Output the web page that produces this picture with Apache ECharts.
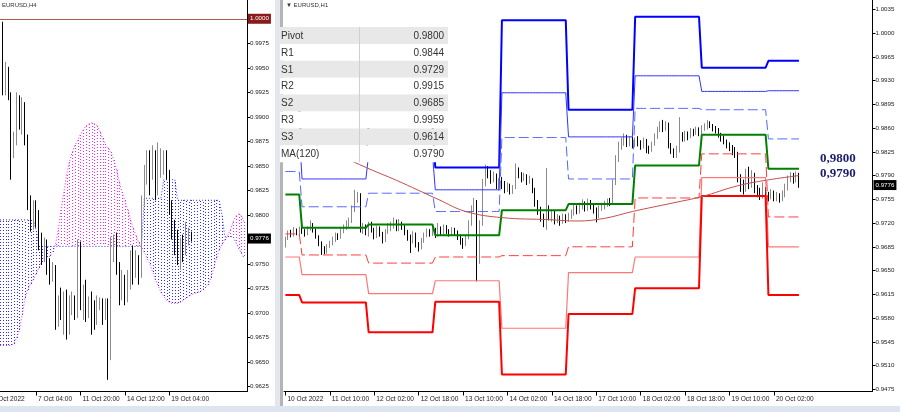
<!DOCTYPE html>
<html><head><meta charset="utf-8">
<script src="https://cdn.jsdelivr.net/npm/echarts@6/dist/echarts.min.js"></script>
<style>html,body{margin:0;padding:0;background:#fff}#c{width:900px;height:412px}</style>
</head><body><div id="c"></div>
<script>
// ---------- tick labels ----------
const leftTickLabels = ['6 Oct 2022','7 Oct 04:00','11 Oct 20:00','14 Oct 12:00','19 Oct 04:00'];
const rightTickLabels = ['10 Oct 2022','11 Oct 10:00','12 Oct 02:00','12 Oct 18:00','13 Oct 10:00','14 Oct 02:00','14 Oct 18:00','17 Oct 10:00','18 Oct 02:00','18 Oct 18:00','19 Oct 10:00','20 Oct 02:00'];
const leftYTicks = [0.9975,0.9950,0.9925,0.9900,0.9875,0.9850,0.9825,0.9800,0.9750,0.9725,0.9700,0.9675,0.9650,0.9625];
const rightYTicks = [1.0035,1.0000,0.9965,0.9930,0.9895,0.9860,0.9825,0.9790,0.9755,0.9720,0.9685,0.9650,0.9615,0.9580,0.9545,0.9510,0.9475];

// ---------- H4 candles (left) [open, close, low, high] ----------
const leftCandles = [
[0.9989,0.9973,0.9971,0.9991],
[0.9975,0.9928,0.9922,0.9997],[0.9928,0.9948,0.9922,0.9956],[0.9948,0.9922,0.9917,0.9951],[0.9922,0.9866,0.9836,0.9925],
[0.9866,0.9877,0.9858,0.9885],[0.9877,0.9917,0.9871,0.9925],[0.9917,0.9897,0.9887,0.9922],[0.9897,0.9912,0.9882,0.9920],
[0.9912,0.9877,0.9871,0.9915],[0.9877,0.9815,0.9805,0.9882],[0.9815,0.9790,0.9783,0.9820],[0.9790,0.9810,0.9785,0.9815],
[0.9810,0.9800,0.9787,0.9815],[0.9800,0.9775,0.9764,0.9805],[0.9775,0.9759,0.9749,0.9782],[0.9759,0.9769,0.9752,0.9777],
[0.9769,0.9749,0.9739,0.9775],[0.9749,0.9739,0.9729,0.9756],[0.9739,0.9746,0.9732,0.9752],[0.9746,0.9693,0.9683,0.9749],
[0.9693,0.9713,0.9686,0.9718],[0.9713,0.9703,0.9693,0.9726],[0.9703,0.9715,0.9678,0.9722],[0.9715,0.9688,0.9673,0.9724],
[0.9688,0.9708,0.9678,0.9718],[0.9708,0.9713,0.9698,0.9722],[0.9713,0.9703,0.9693,0.9718],[0.9703,0.9769,0.9695,0.9775],
[0.9769,0.9713,0.9703,0.9773],[0.9713,0.9718,0.9693,0.9729],[0.9718,0.9708,0.9691,0.9734],[0.9708,0.9713,0.9695,0.9717],
[0.9713,0.9703,0.9678,0.9722],[0.9703,0.9693,0.9683,0.9713],[0.9693,0.9710,0.9688,0.9718],[0.9710,0.9713,0.9703,0.9716],
[0.9713,0.9708,0.9688,0.9715],[0.9708,0.9711,0.9693,0.9715],[0.9711,0.9668,0.9632,0.9715],[0.9668,0.9764,0.9652,0.9778],
[0.9764,0.9775,0.9752,0.9780],[0.9775,0.9744,0.9739,0.9782],[0.9744,0.9718,0.9708,0.9752],[0.9718,0.9729,0.9713,0.9744],
[0.9729,0.9713,0.9708,0.9739],[0.9713,0.9734,0.9711,0.9744],[0.9734,0.9749,0.9724,0.9764],[0.9749,0.9739,0.9729,0.9769],
[0.9739,0.9752,0.9736,0.9764],[0.9752,0.9739,0.9729,0.9759],[0.9739,0.9815,0.9736,0.9820],[0.9815,0.9841,0.9810,0.9851],
[0.9841,0.9851,0.9831,0.9866],[0.9851,0.9846,0.9820,0.9866],[0.9846,0.9856,0.9836,0.9871],[0.9856,0.9825,0.9815,0.9866],
[0.9825,0.9851,0.9820,0.9874],[0.9851,0.9856,0.9838,0.9868],[0.9856,0.9861,0.9841,0.9866],[0.9861,0.9841,0.9836,0.9866],
[0.9841,0.9810,0.9800,0.9846],[0.9810,0.9785,0.9775,0.9815],[0.9785,0.9769,0.9759,0.9795],[0.9769,0.9759,0.9749,0.9785],
[0.9759,0.9769,0.9744,0.9777],[0.9769,0.9764,0.9752,0.9780],[0.9764,0.9777,0.9759,0.9793],[0.9777,0.9780,0.9769,0.9787],
[0.9780,0.9776,0.9773,0.9783]
];

// ---------- Ichimoku spans (left, per H4 slot) ----------
const spanA = [
0.9667,0.9667,0.9667,0.9667,0.9667,0.9669,0.9675,
0.9683,0.9698,0.9715,0.9724,0.9730,0.9734,0.9740,0.9746,0.9752,0.9756,
0.9757,0.9758,0.9762,0.9770,0.9785,0.9805,0.9823,0.9841,0.9854,0.9864,
0.9871,0.9876,0.9882,0.9887,0.9891,0.9893,0.9894,0.9893,0.9891,0.9885,
0.9878,0.9872,0.9868,0.9864,0.9856,0.9846,0.9834,0.9823,0.9815,0.9805,
0.9795,0.9787,0.9779,0.9772,0.9768,0.9762,0.9756,0.9750,0.9742,0.9734,
0.9728,0.9721,0.9717,0.9713,0.9711,0.9710,0.9710,0.9710,0.9711,0.9713,
0.9715,0.9717,0.9719,0.9720,0.9721,0.9722,0.9724,0.9726,0.9729,0.9736,
0.9746,0.9756,0.9764,0.9770,0.9775,0.9779,0.9785,0.9793,0.9799,0.9801,
0.9799,0.9793];
const spanB = [
0.9795,0.9795,0.9795,0.9795,0.9795,0.9795,0.9795,
0.9795,0.9795,0.9795,0.9795,0.9795,0.9795,0.9785,0.9768,0.9768,0.9768,
0.9768,0.9768,0.9768,0.9768,0.9768,0.9768,0.9768,0.9768,0.9768,0.9768,
0.9768,0.9768,0.9768,0.9768,0.9768,0.9768,0.9768,0.9768,0.9768,0.9768,
0.9768,0.9768,0.9768,0.9768,0.9768,0.9768,0.9768,0.9768,0.9768,0.9768,
0.9768,0.9768,0.9768,0.9768,0.9768,0.9817,0.9817,0.9817,0.9817,0.9817,
0.9817,0.9817,0.9836,0.9836,0.9836,0.9836,0.9836,0.9815,0.9815,0.9815,
0.9815,0.9815,0.9815,0.9815,0.9815,0.9815,0.9815,0.9815,0.9815,0.9815,
0.9815,0.9815,0.9815,0.9800,0.9778,0.9778,0.9778,0.9778,0.9772,0.9766,
0.9761,0.9756];

// ---------- H1 candles (right) [open, close, low, high] ----------
const rightCandles = [
[0.9692,0.9698,0.9684,0.9700],[0.9698,0.9706,0.9695,0.9709],[0.9706,0.9702,0.9699,0.9710],[0.9702,0.9710,0.9700,0.9714],
[0.9710,0.9705,0.9702,0.9712],[0.9705,0.9712,0.9703,0.9715],[0.9712,0.9708,0.9704,0.9716],[0.9708,0.9704,0.9700,0.9711],
[0.9704,0.9712,0.9702,0.9715],[0.9712,0.9718,0.9709,0.9724],[0.9718,0.9710,0.9706,0.9720],[0.9710,0.9700,0.9697,0.9712],
[0.9700,0.9690,0.9686,0.9702],[0.9690,0.9682,0.9673,0.9693],[0.9682,0.9678,0.9674,0.9686],[0.9678,0.9686,0.9675,0.9689],
[0.9686,0.9690,0.9683,0.9694],[0.9690,0.9696,0.9687,0.9700],[0.9696,0.9702,0.9692,0.9706],[0.9702,0.9700,0.9695,0.9705],
[0.9700,0.9708,0.9697,0.9712],[0.9708,0.9714,0.9705,0.9718],[0.9714,0.9718,0.9710,0.9724],[0.9718,0.9722,0.9714,0.9728],
[0.9722,0.9740,0.9720,0.9746],[0.9740,0.9760,0.9736,0.9769],[0.9760,0.9762,0.9750,0.9766],[0.9762,0.9710,0.9706,0.9764],
[0.9710,0.9714,0.9704,0.9720],[0.9714,0.9706,0.9702,0.9718],[0.9706,0.9718,0.9700,0.9722],[0.9718,0.9710,0.9706,0.9722],
[0.9710,0.9702,0.9696,0.9713],[0.9702,0.9712,0.9698,0.9716],[0.9712,0.9704,0.9700,0.9715],[0.9704,0.9694,0.9690,0.9707],
[0.9694,0.9708,0.9692,0.9711],[0.9708,0.9714,0.9704,0.9720],[0.9714,0.9716,0.9708,0.9722],[0.9716,0.9722,0.9712,0.9728],
[0.9722,0.9712,0.9708,0.9725],[0.9712,0.9720,0.9708,0.9726],[0.9720,0.9714,0.9710,0.9722],[0.9714,0.9708,0.9702,0.9717],
[0.9708,0.9700,0.9694,0.9710],[0.9700,0.9692,0.9676,0.9703],[0.9692,0.9704,0.9690,0.9708],[0.9704,0.9688,0.9684,0.9706],
[0.9688,0.9684,0.9678,0.9692],[0.9684,0.9694,0.9681,0.9698],[0.9694,0.9702,0.9691,0.9706],[0.9702,0.9708,0.9699,0.9712],
[0.9708,0.9704,0.9700,0.9711],[0.9704,0.9710,0.9701,0.9714],[0.9710,0.9702,0.9698,0.9713],[0.9702,0.9712,0.9700,0.9720],
[0.9712,0.9706,0.9702,0.9715],[0.9706,0.9714,0.9703,0.9718],[0.9714,0.9708,0.9704,0.9717],[0.9708,0.9704,0.9700,0.9711],
[0.9704,0.9710,0.9701,0.9714],[0.9710,0.9706,0.9702,0.9713],[0.9706,0.9700,0.9695,0.9709],[0.9700,0.9694,0.9688,0.9703],
[0.9694,0.9688,0.9682,0.9698],[0.9688,0.9698,0.9686,0.9702],[0.9698,0.9720,0.9696,0.9724],[0.9720,0.9740,0.9716,0.9746],
[0.9740,0.9750,0.9736,0.9757],[0.9750,0.9670,0.9634,0.9754],[0.9670,0.9720,0.9660,0.9724],[0.9720,0.9780,0.9716,0.9785],
[0.9780,0.9800,0.9774,0.9806],[0.9800,0.9795,0.9786,0.9804],[0.9795,0.9785,0.9778,0.9798],[0.9785,0.9790,0.9780,0.9796],
[0.9790,0.9775,0.9770,0.9793],[0.9775,0.9780,0.9768,0.9786],[0.9780,0.9778,0.9770,0.9788],[0.9778,0.9770,0.9764,0.9782],
[0.9770,0.9774,0.9766,0.9780],[0.9774,0.9766,0.9762,0.9778],[0.9766,0.9772,0.9763,0.9776],[0.9772,0.9798,0.9770,0.9808],
[0.9798,0.9792,0.9786,0.9802],[0.9792,0.9786,0.9780,0.9795],[0.9786,0.9790,0.9782,0.9794],[0.9790,0.9782,0.9776,0.9792],
[0.9782,0.9784,0.9778,0.9790],[0.9784,0.9770,0.9764,0.9786],[0.9770,0.9750,0.9744,0.9772],[0.9750,0.9740,0.9732,0.9754],
[0.9740,0.9730,0.9722,0.9744],[0.9730,0.9720,0.9714,0.9734],[0.9720,0.9740,0.9710,0.9801],[0.9740,0.9730,0.9724,0.9746],
[0.9730,0.9735,0.9722,0.9740],[0.9735,0.9725,0.9718,0.9738],[0.9725,0.9728,0.9720,0.9733],[0.9728,0.9722,0.9716,0.9731],
[0.9722,0.9730,0.9719,0.9734],[0.9730,0.9726,0.9720,0.9733],[0.9726,0.9730,0.9722,0.9735],[0.9730,0.9735,0.9726,0.9740],
[0.9735,0.9742,0.9731,0.9747],[0.9742,0.9738,0.9733,0.9746],[0.9738,0.9745,0.9734,0.9750],[0.9745,0.9748,0.9740,0.9755],
[0.9748,0.9742,0.9737,0.9752],[0.9742,0.9750,0.9738,0.9756],[0.9750,0.9746,0.9740,0.9754],[0.9746,0.9740,0.9734,0.9749],
[0.9740,0.9730,0.9721,0.9743],[0.9730,0.9742,0.9727,0.9746],[0.9742,0.9744,0.9738,0.9750],[0.9744,0.9748,0.9740,0.9753],
[0.9748,0.9752,0.9744,0.9756],[0.9752,0.9750,0.9745,0.9757],[0.9750,0.9780,0.9748,0.9784],[0.9780,0.9815,0.9776,0.9820],
[0.9815,0.9835,0.9810,0.9840],[0.9835,0.9840,0.9828,0.9846],[0.9840,0.9846,0.9834,0.9852],[0.9846,0.9838,0.9832,0.9850],
[0.9838,0.9844,0.9833,0.9848],[0.9844,0.9836,0.9830,0.9847],[0.9836,0.9842,0.9832,0.9846],[0.9842,0.9838,0.9833,0.9848],
[0.9838,0.9834,0.9828,0.9842],[0.9834,0.9842,0.9830,0.9846],[0.9842,0.9830,0.9823,0.9844],[0.9830,0.9828,0.9822,0.9834],
[0.9828,0.9836,0.9825,0.9840],[0.9836,0.9848,0.9834,0.9852],[0.9848,0.9858,0.9844,0.9862],[0.9858,0.9864,0.9854,0.9870],
[0.9864,0.9860,0.9854,0.9872],[0.9860,0.9866,0.9856,0.9870],[0.9866,0.9834,0.9830,0.9868],[0.9834,0.9826,0.9822,0.9838],
[0.9826,0.9818,0.9816,0.9830],[0.9818,0.9830,0.9816,0.9834],[0.9830,0.9850,0.9824,0.9876],[0.9850,0.9844,0.9840,0.9854],
[0.9844,0.9852,0.9840,0.9856],[0.9852,0.9848,0.9842,0.9855],[0.9848,0.9856,0.9845,0.9860],[0.9856,0.9854,0.9848,0.9859],
[0.9854,0.9858,0.9850,0.9862],[0.9858,0.9852,0.9848,0.9861],[0.9852,0.9860,0.9850,0.9864],[0.9860,0.9862,0.9856,0.9867],
[0.9862,0.9868,0.9858,0.9872],[0.9868,0.9864,0.9860,0.9870],[0.9864,0.9860,0.9855,0.9866],[0.9860,0.9858,0.9852,0.9863],
[0.9858,0.9850,0.9846,0.9860],[0.9850,0.9846,0.9840,0.9853],[0.9846,0.9840,0.9836,0.9849],[0.9840,0.9836,0.9830,0.9843],
[0.9836,0.9832,0.9826,0.9839],[0.9832,0.9828,0.9820,0.9835],[0.9828,0.9822,0.9816,0.9832],[0.9822,0.9786,0.9780,0.9825],
[0.9786,0.9776,0.9766,0.9792],[0.9776,0.9770,0.9762,0.9784],[0.9770,0.9784,0.9766,0.9800],[0.9784,0.9778,0.9770,0.9803],
[0.9778,0.9790,0.9772,0.9798],[0.9790,0.9772,0.9764,0.9794],[0.9772,0.9766,0.9758,0.9776],[0.9766,0.9762,0.9754,0.9772],
[0.9762,0.9770,0.9756,0.9780],[0.9770,0.9760,0.9754,0.9773],[0.9760,0.9758,0.9752,0.9766],[0.9758,0.9764,0.9755,0.9770],
[0.9764,0.9756,0.9752,0.9768],[0.9756,0.9760,0.9752,0.9766],[0.9760,0.9754,0.9750,0.9764],[0.9754,0.9762,0.9752,0.9768],
[0.9762,0.9772,0.9758,0.9778],[0.9772,0.9784,0.9768,0.9790],[0.9784,0.9790,0.9780,0.9795],[0.9790,0.9786,0.9778,0.9794],
[0.9786,0.9792,0.9780,0.9796],[0.9792,0.9776,0.9772,0.9794]
];

// ---------- daily pivot levels (right) ----------
const dayStarts = [0,6,30,54,78,102,126,150,174];
const pivotDaily = [0.9762,0.9713,0.9718,0.9702,0.9739,0.9748,0.9805,0.9850,0.9800];
const r1Daily = [0.9796,0.9744,0.9764,0.9737,0.9846,0.9785,0.9889,0.9887,0.9844];
const r2Daily = [0.9854,0.9785,0.9821,0.9769,0.9912,0.9847,0.9937,0.9914,0.9915];
const r3Daily = [0.9888,0.9815,0.9866,0.9802,1.0019,0.9887,1.0024,0.9949,0.9959];
const s1Daily = [0.9704,0.9673,0.9661,0.9670,0.9672,0.9685,0.9757,0.9822,0.9729];
const s2Daily = [0.9670,0.9644,0.9616,0.9635,0.9565,0.9647,0.9670,0.9787,0.9685];
const s3Daily = [0.9614,0.9603,0.9559,0.9604,0.9497,0.9586,0.9624,0.9760,0.9614];
const ma120 = [[0,0.9856],[29,0.9802],[40,0.9783],[55,0.9755],[65,0.9737],[78,0.9728],[95,0.9725],[105,0.9723],[115,0.9727],[125,0.9737],[140,0.9750],[150,0.9759],[163,0.9775],[173,0.9783],[185,0.9790]];

const tableLabels = ['Pivot','R1','S1','R2','S2','R3','S3','MA(120)'];
const tableValues = ['0.9800','0.9844','0.9729','0.9915','0.9685','0.9959','0.9614','0.9790'];
const sideLabels = ['0,9800','0,9790'];
const currentPrice = 0.9776;
const roundLevel = 1.0000;

// ---------- build ----------
const leftCats = Array.from({length: 90}, (_, i) => String(i));
const rightCats = Array.from({length: 212}, (_, i) => String(i));
const leftFirstTick = 13;   // slot of '7 Oct 04:00'

function perBar(daily) {
  return rightCandles.map((_, i) => {
    let d = 0;
    while (d + 1 < dayStarts.length && dayStarts[d + 1] <= i) d++;
    return daily[d];
  });
}

const FONT = 'Liberation Sans';
function xAxisCfg(gridIndex, cats, gap, show, labelOf) {
  return {
    type: 'category', gridIndex, data: cats, boundaryGap: gap,
    axisLine: {show: true, lineStyle: {color: '#000', width: 1}},
    axisTick: {show: true, alignWithLabel: true, interval: (i) => show(i), length: 4, lineStyle: {color: '#000'}},
    axisLabel: {interval: (i) => show(i), formatter: (v, i) => labelOf(i), align: 'left',
      fontSize: 6.6, fontFamily: FONT, color: '#222', margin: 4, padding: [0, 0, 0, 2]},
    splitLine: {show: false}
  };
}
function yAxisCfg(gridIndex, min, max, ticks) {
  return {
    type: 'value', gridIndex, position: 'right', min, max, scale: true,
    axisLine: {show: true, lineStyle: {color: '#000'}},
    axisTick: {show: true, customValues: ticks, length: 3, lineStyle: {color: '#000'}},
    axisLabel: {customValues: ticks, formatter: (v) => v.toFixed(4), fontSize: 6.2, fontFamily: FONT, color: '#222', margin: 3},
    splitLine: {show: false}
  };
}
function priceBox(value, bg, lineColor) {
  return {yAxis: value, lineStyle: {color: lineColor, width: 1, type: 'solid'},
    label: {show: true, position: 'end', distance: 1, formatter: () => value.toFixed(4),
      backgroundColor: bg, color: '#fff', fontSize: 6.2, fontFamily: FONT, padding: [2, 2, 2, 2]}};
}
function levelLine(name, daily, color, width, type) {
  return {type: 'line', name, xAxisIndex: 1, yAxisIndex: 1, data: perBar(daily), symbol: 'none',
    lineStyle: {color, width, type}, z: 4, silent: true};
}
const candleStyle = {color: '#a8a8a8', color0: '#000000', borderColor: '#8a8a8a', borderColor0: '#000000', borderWidth: 1};

const MAG = '#f028f0', BLU = '#2c2cff';

const leftShow = (i) => i >= leftFirstTick && (i - leftFirstTick) % 16 === 0 && (i - leftFirstTick) / 16 + 1 < leftTickLabels.length;
const leftLabel = (i) => leftTickLabels[(i - leftFirstTick) / 16 + 1] || '';
const rightShow = (i) => i % 16 === 0 && i / 16 < rightTickLabels.length;
const rightLabel = (i) => rightTickLabels[i / 16] || '';

const graphics = [];
// first (partly cut) date label of the H4 panel
graphics.push({type: 'text', x: -7.5, y: 399, style: {text: leftTickLabels[0], fill: '#222', font: '6.6px "' + FONT + '"', verticalAlign: 'middle'}, z: 101});
// panel separator and bottom band
graphics.push({type: 'rect', shape: {x: 275, y: 0, width: 5, height: 406}, style: {fill: '#e3e7ee'}, z: 100});
graphics.push({type: 'rect', shape: {x: 280, y: 0, width: 3, height: 406}, style: {fill: '#b4b4b4'}, z: 100});
graphics.push({type: 'rect', shape: {x: 0, y: 406, width: 900, height: 6}, style: {fill: '#dde6f0'}, z: 100});
// headers
graphics.push({type: 'text', x: 2, y: 5, style: {text: 'EURUSD,H4', fill: '#333', font: '6px "' + FONT + '"', verticalAlign: 'middle'}, z: 101});
graphics.push({type: 'text', x: 286, y: 5, style: {text: '\u25BC EURUSD,H1', fill: '#333', font: '6px "' + FONT + '"', verticalAlign: 'middle'}, z: 101});
// table
const rowH = 16.9, tTop = 27;
tableLabels.forEach((lab, r) => {
  const y = tTop + r * rowH;
  graphics.push({type: 'rect', shape: {x: 280, y: y, width: 168, height: rowH}, style: {fill: r % 2 === 0 ? '#e8e8e8' : '#ffffff'}, z: 102});
  graphics.push({type: 'text', x: 281, y: y + rowH / 2 + 0.5, style: {text: lab, fill: '#333', font: '10px "' + FONT + '"', verticalAlign: 'middle'}, z: 103});
  graphics.push({type: 'text', x: 444, y: y + rowH / 2 + 0.5, style: {text: tableValues[r], fill: '#333', font: '10px "' + FONT + '"', align: 'right', verticalAlign: 'middle'}, z: 103});
});
graphics.push({type: 'line', shape: {x1: 359.5, y1: tTop, x2: 359.5, y2: tTop + rowH * tableLabels.length}, style: {stroke: '#cfcfcf', lineWidth: 1}, z: 103});
// side labels
sideLabels.forEach((t, k) => {
  graphics.push({type: 'text', x: 820, y: 158.5 + k * 15, style: {text: t, fill: '#1c1c70', font: 'bold 13px "Liberation Serif"', verticalAlign: 'middle'}, z: 101});
});

const option = {
  animation: false,
  backgroundColor: '#ffffff',
  grid: [
    {left: 0, right: 653, top: 0, bottom: 20.5},
    {left: 284, right: 27.5, top: 0, bottom: 20.5}
  ],
  xAxis: [xAxisCfg(0, leftCats, false, leftShow, leftLabel), xAxisCfg(1, rightCats, true, rightShow, rightLabel)],
  yAxis: [yAxisCfg(0, 0.96201, 1.001913, leftYTicks), yAxisCfg(1, 0.94718, 1.00487, rightYTicks)],
  series: [
    {type: 'custom', xAxisIndex: 0, yAxisIndex: 0, z: 1, silent: true, clip: true,
      data: spanA.map((a, i) => [i, a, spanB[i]]), encode: {x: 0, y: [1, 2]},
      renderItem: (params, api) => {
        const i = api.value(0), a = api.value(1), b = api.value(2);
        const pa = api.coord([i, a]), pb = api.coord([i, b]);
        const x = Math.round(pa[0]) + 0.5;
        return {type: 'line', shape: {x1: x, y1: Math.round(pa[1]), x2: x, y2: Math.round(pb[1])},
          style: {stroke: a > b ? MAG : BLU, lineWidth: 1, lineDash: [1, 2]}};
      }},
    {type: 'line', xAxisIndex: 0, yAxisIndex: 0, data: spanA, symbol: 'none', z: 1, silent: true,
      lineStyle: {color: MAG, width: 1, type: [1, 2]}},
    {type: 'line', xAxisIndex: 0, yAxisIndex: 0, data: spanB, symbol: 'none', z: 1, silent: true,
      lineStyle: {color: BLU, width: 1, type: [1, 2]}},
    {type: 'candlestick', xAxisIndex: 0, yAxisIndex: 0, data: leftCandles, barWidth: 1, itemStyle: candleStyle, z: 3,
      markLine: {silent: true, symbol: 'none', animation: false, precision: 4, data: [
        priceBox(roundLevel, '#8b1a1a', '#b5574b'),
        priceBox(currentPrice, '#000000', 'rgba(0,0,0,0)')
      ]}},
    {type: 'candlestick', xAxisIndex: 1, yAxisIndex: 1, data: rightCandles, barWidth: 1, itemStyle: candleStyle, z: 3,
      markLine: {silent: true, symbol: 'none', animation: false, precision: 4, data: [priceBox(currentPrice, '#000000', 'rgba(0,0,0,0)')]}},
    levelLine('R3', r3Daily, '#0000ff', 2, 'solid'),
    levelLine('R2', r2Daily, '#3333ff', 1, 'solid'),
    levelLine('R1', r1Daily, '#5566ff', 1, [10, 4]),
    levelLine('Pivot', pivotDaily, '#008000', 2, 'solid'),
    levelLine('S1', s1Daily, '#ff3b3b', 1, [10, 4]),
    levelLine('S2', s2Daily, '#ff7878', 1.2, 'solid'),
    levelLine('S3', s3Daily, '#ff0000', 2, 'solid'),
    {type: 'line', name: 'MA(120)', xAxisIndex: 1, yAxisIndex: 1, data: ma120, symbol: 'none', smooth: 0.4, z: 4, silent: true,
      lineStyle: {color: '#c0504d', width: 1}}
  ],
  graphic: graphics
};
const chart = echarts.init(document.getElementById('c'));
chart.setOption(option);
</script>
</body></html>
